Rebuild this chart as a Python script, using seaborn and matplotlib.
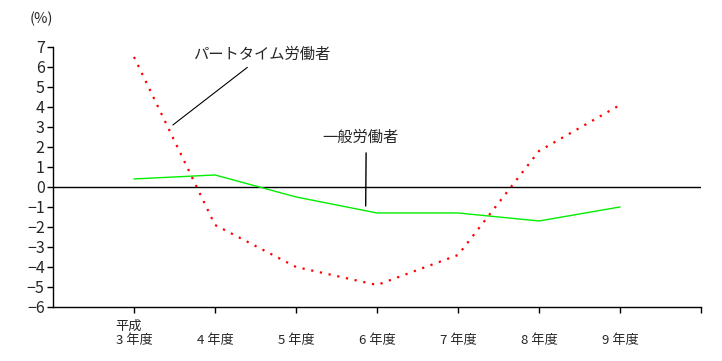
import numpy as np
import pandas as pd
import matplotlib
matplotlib.use("Agg")
import matplotlib.pyplot as plt
import seaborn as sns

# data (前年比, %)
years = ["平成\n3 年度", "\n4 年度", "\n5 年度", "\n6 年度", "\n7 年度", "\n8 年度", "\n9 年度"]
part_time = [6.5, -1.9, -4.0, -4.9, -3.4, 1.8, 4.1]
general = [0.4, 0.6, -0.5, -1.3, -1.3, -1.7, -1.0]
y_ticks = list(range(-6, 8))

sns.set_style("white")
plt.rcParams["font.family"] = ["Noto Sans CJK JP", "DejaVu Sans"]

pos = np.arange(1, len(years) + 1)
df = pd.DataFrame({"pos": pos, "part_time": part_time, "general": general})

fig = plt.figure(figsize=(7.22, 3.61), dpi=100)
ax = fig.add_axes([0.0734, 0.1496, 0.8976, 0.7204])

ax.axhline(0, color="black", lw=1.0, zorder=1)
sns.lineplot(data=df, x="pos", y="general", color="#00ee00", lw=1.0, ax=ax, zorder=2)
sns.lineplot(data=df, x="pos", y="part_time", color="#ff0000", lw=1.6,
             linestyle=(0, (1, 3)), ax=ax, zorder=3)

ax.set_xlim(0, 8)
ax.set_ylim(-6, 7)
ax.set_yticks(y_ticks)
ax.set_yticklabels([str(v).replace("-", "\u2212") for v in y_ticks], fontsize=11.5)
ax.set_xticks(list(pos) + [8])
ax.set_xticklabels(years + [""], fontsize=9.5, multialignment="left", linespacing=1.15)
ax.tick_params(axis="both", direction="out", length=4, width=1, color="black",
               bottom=True, left=True)
ax.tick_params(axis="x", pad=5)
ax.tick_params(axis="y", pad=2)
for s in ["top", "right"]:
    ax.spines[s].set_visible(False)
for s in ["left", "bottom"]:
    ax.spines[s].set_color("black")
    ax.spines[s].set_linewidth(1.0)
ax.set_xlabel("")
ax.set_ylabel("")

# labels with leader lines
ax.annotate("パートタイム労働者", xy=(1.48, 3.1), xytext=(2.58, 6.65),
            ha="center", va="center", fontsize=11,
            arrowprops=dict(arrowstyle="-", color="black", lw=0.8,
                            shrinkA=2, shrinkB=0, relpos=(0.44, 0.0)))
ax.annotate("一般労働者", xy=(3.86, -0.95), xytext=(3.8, 2.5),
            ha="center", va="center", fontsize=11,
            arrowprops=dict(arrowstyle="-", color="black", lw=1.0,
                            shrinkA=3, shrinkB=0, relpos=(0.57, 0.0)))

fig.text(30 / 722, 1 - 19 / 361, "(%)", fontsize=10.5, ha="left", va="center")

fig.savefig("out.png", dpi=100)
